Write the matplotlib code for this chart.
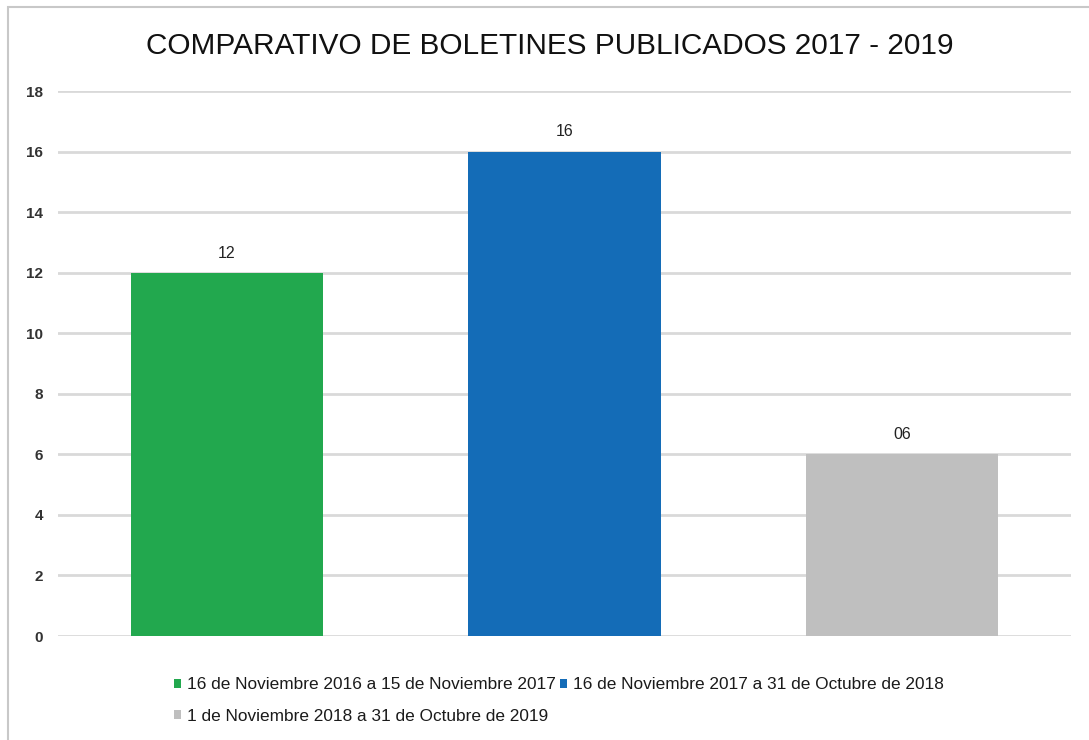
import matplotlib.pyplot as plt
from matplotlib.patches import Rectangle

# data
periods = ['16 de Noviembre 2016 a 15 de Noviembre 2017',
           '16 de Noviembre 2017 a 31 de Octubre de 2018',
           '1 de Noviembre 2018 a 31 de Octubre de 2019']
boletines = [12, 16, 6]
value_labels = ['12', '16', '06']
colors = ['#22A84E', '#146CB7', '#BFBFBF']
yticks = [0, 2, 4, 6, 8, 10, 12, 14, 16, 18]

plt.rcParams['font.family'] = ['Liberation Sans', 'DejaVu Sans']

fig = plt.figure(figsize=(10.89, 7.40), dpi=100)
ax = fig.add_axes([0.0533, 0.1405, 0.930, 0.7365])

x = range(len(boletines))
bars = ax.bar(x, boletines, width=0.57, color=colors, zorder=3)
for b, lab in zip(bars, value_labels):
    ax.text(b.get_x() + b.get_width() / 2, b.get_height() + 0.4, lab,
            ha='center', va='bottom', fontsize=11.5, color='#222222')

ax.set_xlim(-0.5, 2.5)
ax.set_ylim(0, 18)
ax.set_yticks(yticks)
ax.set_yticklabels([str(t) for t in yticks], fontsize=11, fontweight='bold', color='#333333')
ax.set_xticks([])
ax.tick_params(axis='y', length=0, pad=11)
ax.yaxis.grid(True, color='#D9D9D9', linewidth=2, zorder=0)
for s in ax.spines.values():
    s.set_visible(False)

fig.text(0.505, 0.938, 'COMPARATIVO DE BOLETINES PUBLICADOS 2017 - 2019',
         ha='center', va='center', fontsize=21.4, color='#111111')

# outer frame
fig.patches.append(Rectangle((8 / 1089, -0.1), 1.2, 1 - 7 / 740 + 0.1,
                             transform=fig.transFigure, fill=False,
                             edgecolor='#C8C8C8', linewidth=1.5))

# legend fills column by column, so order handles to read row by row
order = [0, 2, 1]
fig.legend(handles=[bars[i] for i in order], labels=[periods[i] for i in order],
           ncol=2, loc='upper left',
           bbox_to_anchor=(0.153, 0.094), frameon=False, fontsize=12.4,
           handlelength=0.45, handleheight=0.45, handletextpad=0.35,
           columnspacing=0.2, labelspacing=0.95, borderaxespad=0,
           labelcolor='#1a1a1a')

fig.savefig('out.png', dpi=100)
